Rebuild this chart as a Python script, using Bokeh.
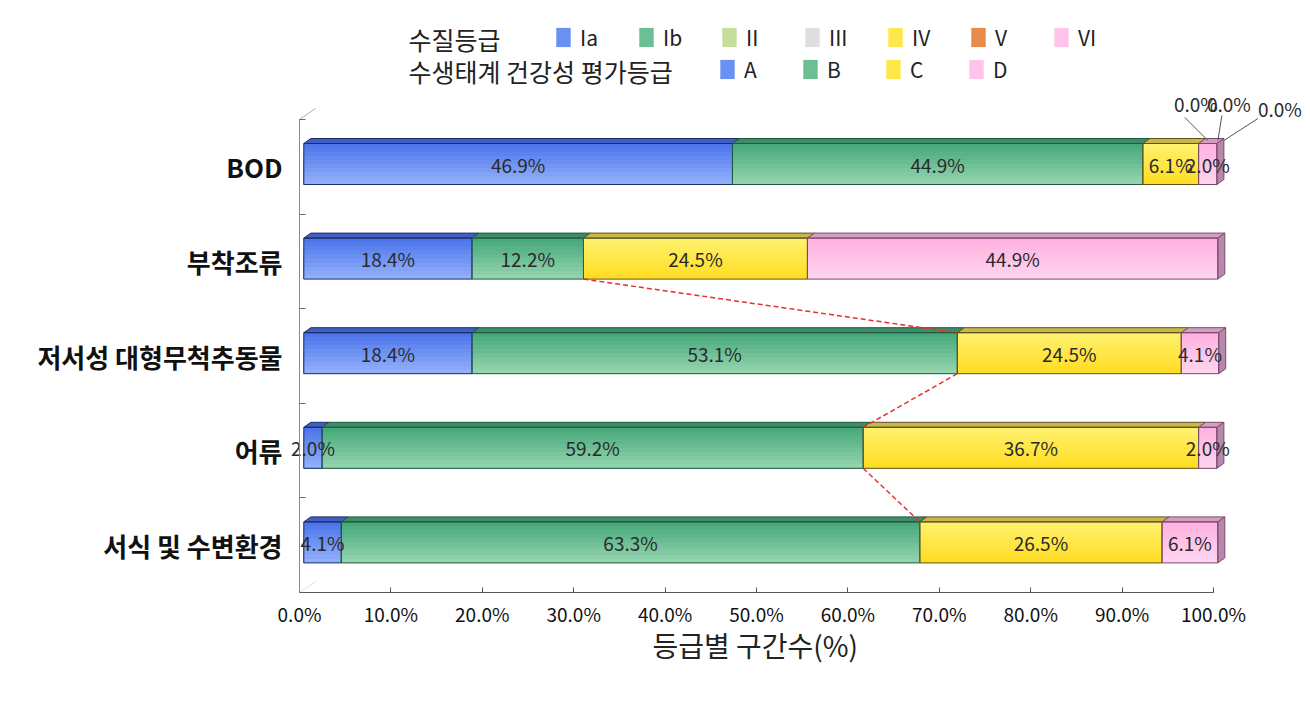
from bokeh.plotting import figure
from bokeh.models import (Range1d, FixedTicker, LinearAxis, PrintfTickFormatter,
                          Legend, LegendItem, Label, Title)
from bokeh.core.properties import value
from bokeh.embed import file_html
from bokeh.resources import INLINE

# ---------------- data ----------------
categories = ["BOD", "부착조류", "저서성 대형무척추동물", "어류", "서식 및 수변환경"]
grade_a = [46.9, 18.4, 18.4, 2.0, 4.1]     # Ia / A
grade_b = [44.9, 12.2, 53.1, 59.2, 63.3]   # Ib / B
grade_c = [6.1, 24.5, 24.5, 36.7, 26.5]    # IV / C
grade_d = [2.0, 44.9, 4.1, 2.0, 6.1]       # VI / D
bod_zero_grades = [0.0, 0.0, 0.0]          # II, III, V (BOD only)
x_ticks = [0, 10, 20, 30, 40, 50, 60, 70, 80, 90, 100]
quality_labels = ["Ia", "Ib", "II", "III", "IV", "V", "VI"]
eco_labels = ["A", "B", "C", "D"]
quality_title = "수질등급"
eco_title = "수생태계 건강성 평가등급"
x_title = "등급별 구간수(%)"

# ---------------- layout / style ----------------
FONT = "Noto Sans CJK KR"
W, H = 1302, 703
LEFT, TOP, BOTTOM = 285, 16, 111
frame_w = W - LEFT
frame_h = H - TOP - BOTTOM
PX_X = 9.14          # px per percent
PX_Y = 94.6          # px per category band
X0_PX = 299          # page x of 0 %
Y0_PX = 592          # page y of the x axis
x_start = -(X0_PX - LEFT) / PX_X
x_end = x_start + frame_w / PX_X
y_end = frame_h / PX_Y
n = len(categories)

SHIFT = 4.3 / PX_X   # bars sit slightly behind the axis plane
DX = 7 / PX_X        # 3D depth
DY = 5 / PX_Y
BAR_H = 41 / PX_Y
ROW_OFF = 2.8 / PX_Y
NSTRIP = 10
LEG_ROW1, LEG_ROW2 = 38, 70   # page y of legend row centres

styles = [
    dict(top="#4a72ea", bot="#94b3fb", face="#3d5fc6", edge="#1d2d66"),
    dict(top="#44a779", bot="#97d6b1", face="#3f8c68", edge="#1f5a40"),
    dict(top="#fff270", bot="#ffdc20", face="#cbb64a", edge="#5c5222"),
    dict(top="#ffb0df", bot="#ffd6f1", face="#d59ec0", edge="#7a4a6c"),
]
SIDE = "#b888aa"
legend_colors_q = ["#6a90f2", "#6cbf94", "#c6dd9c", "#dedede", "#ffe74a", "#e88c4c", "#ffc4ea"]
legend_colors_e = ["#6a90f2", "#6cbf94", "#ffe74a", "#ffc4ea"]


def mix(c1, c2, t):
    a = [int(c1[i:i + 2], 16) for i in (1, 3, 5)]
    b = [int(c2[i:i + 2], 16) for i in (1, 3, 5)]
    return "#%02x%02x%02x" % tuple(round(a[k] + (b[k] - a[k]) * t) for k in range(3))


def dx(px):
    return (px - X0_PX) / PX_X


def dy(py):
    return (Y0_PX - py) / PX_Y


p = figure(width=W, height=H, x_range=Range1d(x_start, x_end), y_range=Range1d(0, y_end),
           output_backend="svg", toolbar_location=None,
           min_border_left=LEFT, min_border_right=0, min_border_top=TOP, min_border_bottom=BOTTOM)
p.outline_line_color = None
p.grid.visible = False
p.background_fill_color = "white"

# x axis
xa = p.xaxis[0]
xa.ticker = FixedTicker(ticks=x_ticks)
xa.formatter = PrintfTickFormatter(format="%.1f%%")
xa.bounds = (0, 100)
xa.major_tick_in = 5
xa.major_tick_out = 0
xa.minor_tick_line_color = None
xa.axis_line_color = "#555555"
xa.major_tick_line_color = "#555555"
xa.major_label_text_font = FONT
xa.major_label_text_font_size = "19px"
xa.major_label_text_color = "#111111"
xa.major_label_standoff = 7

# y axis (category labels)
centers = [n - i - 0.5 for i in range(n)]
ya = p.yaxis[0]
ya.ticker = FixedTicker(ticks=centers)
ya.major_label_overrides = {c: name for c, name in zip(centers, categories)}
ya.axis_line_color = None
ya.major_tick_line_color = None
ya.minor_tick_line_color = None
ya.major_label_text_font = FONT
ya.major_label_text_font_style = "bold"
ya.major_label_text_font_size = "26px"
ya.major_label_text_color = "#111111"
ya.major_label_standoff = -3

# y axis line at x = 0 with band ticks
ya2 = LinearAxis(fixed_location=0, ticker=FixedTicker(ticks=list(range(n + 1))), bounds=(0, n),
                 major_tick_in=6, major_tick_out=0, minor_tick_line_color=None,
                 axis_line_color="#8a8a8a", major_tick_line_color="#666666",
                 major_label_text_color=None, major_label_text_font_size="1px")
p.add_layout(ya2, "left")

# 3D wall edges
p.segment(x0=[0, 0], y0=[n, 0], x1=[16 / PX_X, 16 / PX_X], y1=[n + 11 / PX_Y, 11 / PX_Y],
          line_color=["#b0b0b0", "#dddddd"], line_width=1)

# ---------------- bars ----------------
series = [grade_a, grade_b, grade_c, grade_d]
strip = dict(left=[], right=[], top=[], bottom=[], color=[])
outline = dict(left=[], right=[], top=[], bottom=[], color=[])
tops = dict(xs=[], ys=[], fill=[], line=[])
sides = dict(xs=[], ys=[], line=[])
labels = dict(x=[], y=[], text=[])
cum_ab = []
row_geo = []
for i in range(n):
    yc = centers[i] + ROW_OFF
    t, b = yc + BAR_H / 2, yc - BAR_H / 2
    row_geo.append((t, b))
    cum = 0.0
    for s, vals in enumerate(series):
        v = vals[i]
        l, r = cum + SHIFT, cum + v + SHIFT
        st = styles[s]
        for k in range(NSTRIP):
            strip["left"].append(l)
            strip["right"].append(r)
            strip["top"].append(t - (t - b) * k / NSTRIP)
            strip["bottom"].append(b)
            strip["color"].append(mix(st["top"], st["bot"], (k + 0.5) / NSTRIP))
        outline["left"].append(l)
        outline["right"].append(r)
        outline["top"].append(t)
        outline["bottom"].append(b)
        outline["color"].append(st["edge"])
        tops["xs"].append([l, l + DX, r + DX, r])
        tops["ys"].append([t, t + DY, t + DY, t])
        tops["fill"].append(st["face"])
        tops["line"].append(st["edge"])
        labels["x"].append((l + r) / 2)
        labels["y"].append(yc)
        labels["text"].append(f"{v:.1f}%")
        cum += v
        if s == 1:
            cum_ab.append(cum)
    sides["xs"].append([cum + SHIFT, cum + SHIFT, cum + SHIFT + DX, cum + SHIFT + DX])
    sides["ys"].append([b, t, t + DY, b + DY])
    sides["line"].append(styles[3]["edge"])

p.quad(left="left", right="right", top="top", bottom="bottom", fill_color="color",
       line_color=None, source=strip)
p.patches(xs="xs", ys="ys", fill_color="fill", line_color="line", line_width=1, source=tops)
p.patches(xs="xs", ys="ys", fill_color=SIDE, line_color="line", line_width=1, source=sides)
p.quad(left="left", right="right", top="top", bottom="bottom", fill_color=None,
       line_color="color", line_width=1, source=outline)
p.text(x="x", y="y", text="text", source=labels, text_align="center", text_baseline="middle",
       text_font=value(FONT), text_font_size="19px", text_color="#2a2a2a")

# series connecting lines (B/C boundary)
x0s, y0s, x1s, y1s = [], [], [], []
for i in range(1, n - 1):
    x0s.append(cum_ab[i] + SHIFT)
    y0s.append(row_geo[i][1])
    x1s.append(cum_ab[i + 1] + SHIFT)
    y1s.append(row_geo[i + 1][0])
p.segment(x0=x0s, y0=y0s, x1=x1s, y1=y1s, line_color="#e8302a", line_dash="5 3", line_width=1.5)

# BOD zero-value labels with leader lines
bod_end = grade_a[0] + grade_b[0] + grade_c[0] + grade_d[0] + SHIFT
bod_top = row_geo[0][0]
lbl_off = [(-21, 40), (12, 40), (63, 35)]
start_off = [(-32, 26), (5, 28), (41, 25)]
end_off = [(-9, 3), (1, 3), (7, 3)]
zx, zy, zt = [], [], []
lx0, ly0, lx1, ly1 = [], [], [], []
for z, lo, so, eo in zip(bod_zero_grades, lbl_off, start_off, end_off):
    zx.append(bod_end + lo[0] / PX_X)
    zy.append(bod_top + lo[1] / PX_Y)
    zt.append(f"{z:.1f}%")
    lx0.append(bod_end + so[0] / PX_X)
    ly0.append(bod_top + so[1] / PX_Y)
    lx1.append(bod_end + eo[0] / PX_X)
    ly1.append(bod_top + eo[1] / PX_Y)
p.segment(x0=lx0, y0=ly0, x1=lx1, y1=ly1, line_color="#555555", line_width=1)
p.text(x=zx, y=zy, text=zt, text_align="center", text_baseline="middle",
       text_font=value(FONT), text_font_size="19px", text_color="#2a2a2a")

# ---------------- legend ----------------
def swatch(color):
    return p.quad(left=[0], right=[0], top=[0], bottom=[0], fill_color=color, line_color=None)


leg_common = dict(orientation="horizontal", glyph_width=18, glyph_height=24, label_standoff=8,
                  label_width=50, label_height=28, spacing=7, padding=0, margin=0,
                  border_line_color=None, background_fill_alpha=0, label_text_font=FONT,
                  label_text_font_size="21px", label_text_color="#222222")
leg1 = Legend(items=[LegendItem(label=lab, renderers=[swatch(c)])
                     for lab, c in zip(quality_labels, legend_colors_q)],
              location=(554 - LEFT, Y0_PX - (LEG_ROW1 + 14)), **leg_common)
leg2 = Legend(items=[LegendItem(label=lab, renderers=[swatch(c)])
                     for lab, c in zip(eco_labels, legend_colors_e)],
              location=(718 - LEFT, Y0_PX - (LEG_ROW2 + 14)), **leg_common)
p.add_layout(leg1)
p.add_layout(leg2)

for txt, py in ((quality_title, LEG_ROW1), (eco_title, LEG_ROW2)):
    p.add_layout(Label(x=dx(408), y=dy(py), text=txt, text_align="left",
                       text_baseline="middle", text_font=FONT, text_font_size="25px",
                       text_color="#222222"))

p.add_layout(Title(text=x_title, align="left", offset=652 - LEFT, text_font=FONT,
                   text_font_size="28px", text_font_style="normal", text_color="#222222",
                   standoff=-13), "below")

open("out.html", "w").write(file_html(p, INLINE))
